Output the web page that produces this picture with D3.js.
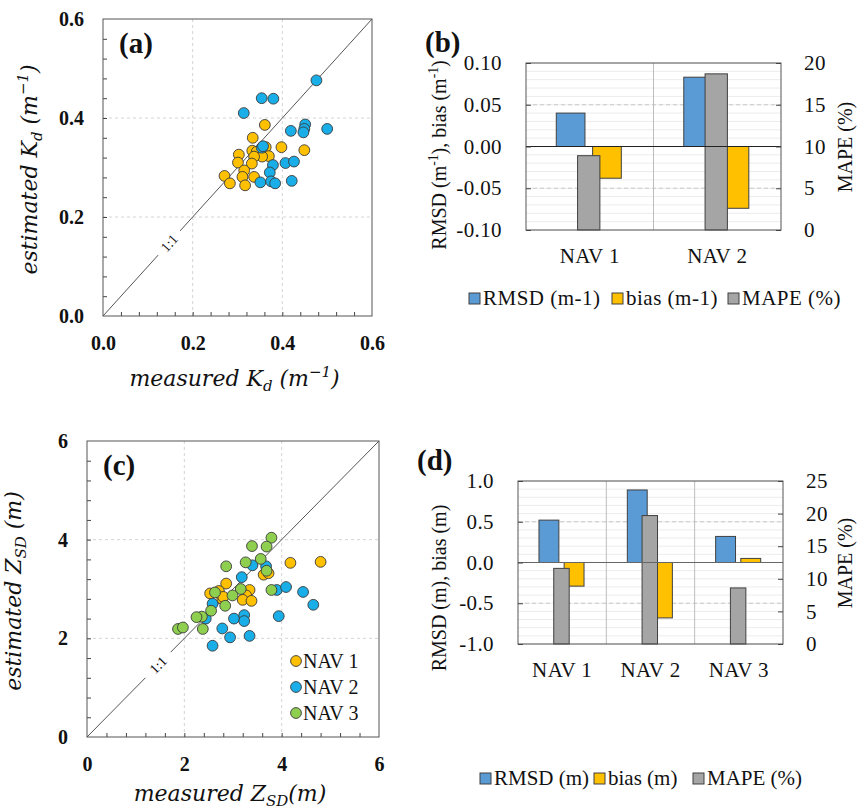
<!DOCTYPE html>
<html>
<head>
<meta charset="utf-8">
<script src="https://cdn.jsdelivr.net/npm/d3@7"></script>
<style>
  body { margin: 0; background: #fff; }
  svg { display: block; }
  text { font-family: "Liberation Serif", "Times New Roman", serif; fill: #111; }
  .math { font-family: "DejaVu Serif", serif; font-style: italic; }
</style>
</head>
<body>
<svg width="859" height="812"></svg>
<script>
// (a) measured vs estimated Kd, [measured, estimated]
var kdNav1 = [[0.361,0.386],[0.334,0.360],[0.398,0.341],[0.449,0.335],[0.363,0.341],[0.333,0.334],
  [0.343,0.332],[0.303,0.326],[0.370,0.323],[0.355,0.322],[0.337,0.322],[0.301,0.310],[0.332,0.308],
  [0.315,0.294],[0.271,0.283],[0.311,0.281],[0.337,0.281],[0.283,0.268],[0.317,0.264]];
var kdNav2 = [[0.476,0.476],[0.354,0.440],[0.380,0.439],[0.314,0.410],[0.419,0.374],[0.451,0.387],
  [0.449,0.378],[0.447,0.371],[0.500,0.378],[0.354,0.340],[0.357,0.343],[0.379,0.305],[0.407,0.309],
  [0.426,0.312],[0.372,0.290],[0.351,0.270],[0.375,0.272],[0.384,0.268],[0.421,0.273]];

// (c) measured vs estimated Zsd
var zsdNav1 = [[4.18,3.53],[4.80,3.55],[3.63,3.29],[3.73,3.32],[2.86,3.11],[2.53,2.91],[2.71,2.96],
  [2.78,2.80],[3.34,2.98],[3.27,2.87],[3.20,2.78],[3.38,2.76],[2.80,2.84]];
var zsdNav2 = [[3.40,3.48],[3.68,3.46],[3.18,3.24],[3.90,2.98],[4.09,3.04],[4.44,2.94],[4.65,2.68],
  [2.58,2.70],[3.94,2.45],[2.44,2.40],[3.02,2.40],[3.23,2.47],[3.23,2.35],[2.78,2.20],[2.94,2.02],
  [3.34,2.05],[2.58,1.85]];
var zsdNav3 = [[3.79,4.04],[3.39,3.87],[3.69,3.86],[3.57,3.61],[3.26,3.54],[2.86,3.46],[3.69,3.37],
  [3.79,2.98],[3.16,3.00],[2.63,2.93],[2.99,2.87],[2.84,2.66],[2.55,2.56],[2.36,2.44],[2.25,2.43],
  [2.38,2.19],[1.87,2.19],[1.97,2.22]];
var navNames = ["NAV 1", "NAV 2", "NAV 3"];

// (b) Kd statistics
var kdCats = ["NAV 1", "NAV 2"];
var kdRmsd = [0.040, 0.083];
var kdBias = [-0.038, -0.074];
var kdMape = [8.9, 18.7];
var kdLegend = ["RMSD (m-1)", "bias (m-1)", "MAPE (%)"];

// (d) Zsd statistics
var zsdCats = ["NAV 1", "NAV 2", "NAV 3"];
var zsdRmsd = [0.52, 0.89, 0.32];
var zsdBias = [-0.29, -0.68, 0.05];
var zsdMape = [11.6, 19.7, 8.6];
var zsdLegend = ["RMSD (m)", "bias (m)", "MAPE (%)"];

var navColors = ["#ffc000", "#1aaee8", "#8fcf4f"];
var barColors = ["#5b9bd5", "#ffc000", "#a5a5a5"];

var svg = d3.select("svg");

// text made of pieces, some sub/superscript
function richText(sel, parts, size) {
  parts.forEach(function(p) {
    var t = sel.append("tspan").text(p.t);
    if (p.sub) t.attr("dy", size * 0.22).style("font-size", size * 0.68 + "px");
    if (p.sup) t.attr("dy", -size * 0.4).style("font-size", size * 0.68 + "px");
    if (p.back) t.attr("dy", p.back * size);
  });
}

function scatter(o) {
  var x = d3.scaleLinear().domain([0, o.max]).range([o.left, o.right]),
      y = d3.scaleLinear().domain([0, o.max]).range([o.bottom, o.top]);
  var g = svg.append("g");
  var major = x.ticks(3), inner = major.slice(1, -1);
  var minor = d3.range(1, Math.round(o.max / o.minor)).map(function(i) { return i * o.minor; });

  g.selectAll(".vg").data(inner).enter().append("line")
    .attr("x1", x).attr("x2", x).attr("y1", o.top).attr("y2", o.bottom)
    .attr("stroke", "#d4d4d4").attr("stroke-dasharray", "3,3");
  g.selectAll(".hg").data(inner).enter().append("line")
    .attr("y1", y).attr("y2", y).attr("x1", o.left).attr("x2", o.right)
    .attr("stroke", "#d4d4d4").attr("stroke-dasharray", "3,3");

  // inward minor ticks
  g.append("g").attr("transform", "translate(" + o.left + ",0)")
    .call(d3.axisLeft(y).tickValues(minor).tickSize(-4).tickFormat(""))
    .call(function(a) { a.select(".domain").remove(); a.selectAll("line").attr("stroke", "#444"); });
  g.append("g").attr("transform", "translate(0," + o.bottom + ")")
    .call(d3.axisBottom(x).tickValues(minor).tickSize(-4).tickFormat(""))
    .call(function(a) { a.select(".domain").remove(); a.selectAll("line").attr("stroke", "#444"); });

  // labels
  var yl = g.append("g").attr("transform", "translate(" + o.left + ",0)")
    .call(d3.axisLeft(y).tickValues(major).tickSize(0).tickPadding(19).tickFormat(o.fmt));
  var xl = g.append("g").attr("transform", "translate(0," + o.bottom + ")")
    .call(d3.axisBottom(x).tickValues(major).tickSize(0).tickPadding(20).tickFormat(o.fmt));
  [yl, xl].forEach(function(a) {
    a.select(".domain").remove();
    a.selectAll("text").style("font-family", "'Liberation Serif', serif")
      .style("font-size", "20px").style("font-weight", "bold").attr("fill", "#111");
  });

  // 1:1 line with a gap for its label
  var seg = [[0, o.gap[0]], [o.gap[1], o.max]];
  g.selectAll(".one").data(seg).enter().append("line")
    .attr("x1", function(d) { return x(d[0]); }).attr("y1", function(d) { return y(d[0]); })
    .attr("x2", function(d) { return x(d[1]); }).attr("y2", function(d) { return y(d[1]); })
    .attr("stroke", "#555").attr("stroke-width", 1);
  var mid = (o.gap[0] + o.gap[1]) / 2;
  var ang = Math.atan2(y(0) - y(o.max), x(o.max) - x(0)) * 180 / Math.PI;
  g.append("text")
    .attr("transform", "translate(" + x(mid) + "," + y(mid) + ") rotate(" + (-ang) + ")")
    .attr("text-anchor", "middle").attr("dy", "0.35em")
    .style("font-size", "14px").text("1:1");

  o.series.forEach(function(s, i) {
    g.selectAll(".p" + i).data(s).enter().append("circle")
      .attr("cx", function(d) { return x(d[0]); })
      .attr("cy", function(d) { return y(d[1]); })
      .attr("r", 5.4)
      .attr("fill", o.colors[i]).attr("stroke", "#3a3a3a").attr("stroke-width", 0.9);
  });

  g.append("rect").attr("x", o.left).attr("y", o.top)
    .attr("width", o.right - o.left).attr("height", o.bottom - o.top)
    .attr("fill", "none").attr("stroke", "#555");

  g.append("text").attr("x", o.left + 16).attr("y", o.top + 34)
    .style("font-size", "29px").style("font-weight", "bold").text(o.label);

  var xt = g.append("text").attr("class", "math")
    .attr("x", (o.left + o.right) / 2 - 3).attr("y", o.bottom + o.xtOff)
    .attr("text-anchor", "middle").style("font-size", "22px");
  richText(xt, o.xTitle, 22);
  var yt = g.append("text").attr("class", "math")
    .attr("transform", "translate(" + (o.left - 66) + "," + ((o.top + o.bottom) / 2 + 2) + ") rotate(-90)")
    .attr("text-anchor", "middle").style("font-size", "22px");
  richText(yt, o.yTitle, 22);
  return {x: x, y: y, g: g};
}

function bars(o) {
  var x = d3.scaleBand().domain(o.cats).range([o.left, o.right]),
      y = d3.scaleLinear().domain([-o.lmax, o.lmax]).range([o.bottom, o.top]),
      y2 = d3.scaleLinear().domain([0, o.rmax]).range([o.bottom, o.top]);
  var bw = x.bandwidth();
  var g = svg.append("g");

  // faint minor grid, dashed half lines
  g.selectAll(".mg").data(y.ticks(20)).enter().append("line")
    .attr("x1", o.left).attr("x2", o.right).attr("y1", y).attr("y2", y)
    .attr("stroke", "#ececec");
  g.selectAll(".dg").data([-o.lmax / 2, o.lmax / 2]).enter().append("line")
    .attr("x1", o.left).attr("x2", o.right).attr("y1", y).attr("y2", y)
    .attr("stroke", "#c8c8c8").attr("stroke-dasharray", "4,3");
  g.selectAll(".sep").data(o.cats.slice(1)).enter().append("line")
    .attr("x1", x).attr("x2", x).attr("y1", o.top).attr("y2", o.bottom)
    .attr("stroke", "#bdbdbd");

  var series = [
    {vals: o.rmsd, off: -0.15, w: 0.225, scale: y, base: 0},
    {vals: o.bias, off: 0.135, w: 0.225, scale: y, base: 0},
    {vals: o.mape, off: -0.008, w: 0.175, scale: y2, base: 0}
  ];
  series.forEach(function(s, i) {
    g.selectAll(".b" + i).data(s.vals).enter().append("rect")
      .attr("x", function(d, j) { return x(o.cats[j]) + bw * (0.5 + s.off - s.w / 2); })
      .attr("width", bw * s.w)
      .attr("y", function(d) { return Math.min(s.scale(d), s.scale(s.base)); })
      .attr("height", function(d) { return Math.abs(s.scale(d) - s.scale(s.base)); })
      .attr("fill", barColors[i]).attr("stroke", "#404040").attr("stroke-width", 1);
  });

  g.append("line").attr("x1", o.left).attr("x2", o.right)
    .attr("y1", y(0)).attr("y2", y(0)).attr("stroke", o.zeroColor).attr("stroke-width", 1.2);

  g.append("rect").attr("x", o.left).attr("y", o.top)
    .attr("width", o.right - o.left).attr("height", o.bottom - o.top)
    .attr("fill", "none").attr("stroke", "#555");

  var la = g.append("g").attr("transform", "translate(" + o.left + ",0)")
    .call(d3.axisLeft(y).tickValues(o.lticks).tickSize(-5).tickPadding(24).tickFormat(o.fmt));
  var ra = g.append("g").attr("transform", "translate(" + o.right + ",0)")
    .call(d3.axisRight(y2).tickValues(o.rticks).tickSize(-5).tickPadding(23));
  var xa = g.append("g").attr("transform", "translate(0," + o.bottom + ")")
    .call(d3.axisBottom(x).tickSize(0).tickPadding(18));
  [la, ra, xa].forEach(function(a) {
    a.select(".domain").remove();
    a.selectAll("line").attr("stroke", "#444");
    a.selectAll("text").style("font-family", "'Liberation Serif', serif")
      .style("font-size", "21px").style("letter-spacing", "0.4px").attr("fill", "#111");
  });

  g.append("text").attr("x", o.left - 101).attr("y", o.top - 11)
    .style("font-size", "29px").style("font-weight", "bold").text(o.label);

  var lt = g.append("text")
    .attr("transform", "translate(" + 446 + "," + o.ltY + ") rotate(-90)")
    .attr("text-anchor", "middle").style("font-size", "20px");
  richText(lt, o.lTitle, 20);
  g.append("text")
    .attr("transform", "translate(" + 852 + "," + o.rtY + ") rotate(-90)")
    .attr("text-anchor", "middle").style("font-size", "20px").text("MAPE (%)");

  var lg = g.append("g").attr("transform", "translate(0," + o.legY + ")");
  o.legend.forEach(function(name, i) {
    lg.append("rect").attr("x", o.legX[i]).attr("y", -12).attr("width", 11).attr("height", 11)
      .attr("fill", barColors[i]).attr("stroke", "#404040");
    lg.append("text").attr("x", o.legX[i] + 14).attr("y", 0)
      .style("font-size", "21px").style("letter-spacing", o.legSpace + "px").text(name);
  });
}

scatter({
  left: 103, right: 372, top: 19, bottom: 316, max: 0.6, minor: 0.04, xtOff: 70,
  fmt: function(d) { return d.toFixed(1); }, gap: [0.123, 0.172],
  series: [kdNav1, kdNav2], colors: navColors, label: "(a)",
  xTitle: [{t: "measured K"}, {t: "d", sub: true}, {t: " (m", back: -0.22}, {t: "\u22121", sup: true}, {t: ")", back: 0.4}],
  yTitle: [{t: "estimated K"}, {t: "d", sub: true}, {t: " (m", back: -0.22}, {t: "\u22121", sup: true}, {t: ")", back: 0.4}]
});

var c = scatter({
  left: 87, right: 379, top: 441, bottom: 737, max: 6, minor: 0.4, xtOff: 64,
  fmt: d3.format("d"), gap: [1.2, 1.72],
  series: [zsdNav1, zsdNav2, zsdNav3], colors: navColors, label: "(c)",
  xTitle: [{t: "measured Z"}, {t: "SD", sub: true}, {t: "(m)", back: -0.22}],
  yTitle: [{t: "estimated Z"}, {t: "SD", sub: true}, {t: " (m)", back: -0.22}]
});

// legend inside (c)
var leg = c.g.append("g");
navNames.forEach(function(n, i) {
  leg.append("circle").attr("cx", 296).attr("cy", 661 + i * 26).attr("r", 5.4)
    .attr("fill", navColors[i]).attr("stroke", "#3a3a3a").attr("stroke-width", 0.9);
  leg.append("text").attr("x", 303).attr("y", 668 + i * 26)
    .style("font-size", "20px").text(n);
});

bars({
  left: 526, right: 781, top: 63, bottom: 230, lmax: 0.1, rmax: 20,
  cats: kdCats, rmsd: kdRmsd, bias: kdBias, mape: kdMape,
  lticks: [-0.1, -0.05, 0, 0.05, 0.1], rticks: [0, 5, 10, 15, 20],
  fmt: function(d) { return d.toFixed(2); }, zeroColor: "#222",
  label: "(b)", ltY: 155, rtY: 147,
  lTitle: [{t: "RMSD (m"}, {t: "-1", sup: true}, {t: "), bias (m", back: 0.4}, {t: "-1", sup: true}, {t: ")", back: 0.4}],
  legend: kdLegend, legX: [469, 612, 728], legY: 305, legSpace: 0.5
});

bars({
  left: 518, right: 783, top: 481, bottom: 644, lmax: 1, rmax: 25,
  cats: zsdCats, rmsd: zsdRmsd, bias: zsdBias, mape: zsdMape,
  lticks: [-1, -0.5, 0, 0.5, 1], rticks: [0, 5, 10, 15, 20, 25],
  fmt: function(d) { return d.toFixed(1); }, zeroColor: "#666",
  label: "(d)", ltY: 588, rtY: 563,
  lTitle: [{t: "RMSD (m), bias (m)"}],
  legend: zsdLegend, legX: [480, 594, 693], legY: 785, legSpace: 0
});
</script>
</body>
</html>
